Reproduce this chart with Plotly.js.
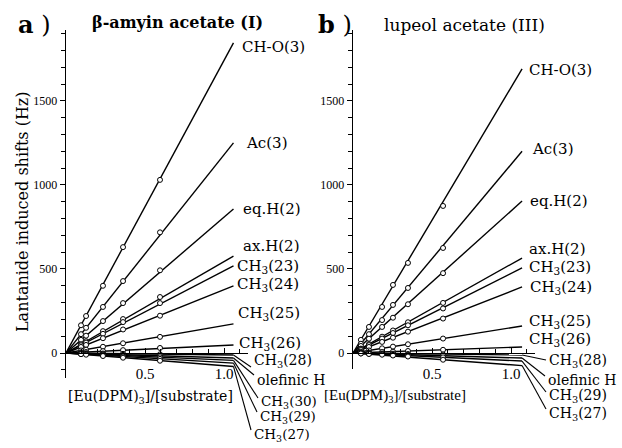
<!DOCTYPE html>
<html><head><meta charset="utf-8">
<script src="https://cdn.plot.ly/plotly-3.0.1.min.js"></script>
<style>html,body{margin:0;padding:0;background:#fff}#chart{width:622px;height:448px}</style>
</head><body><div id="chart"></div>
<script>
// ---------- data ----------
const seriesA = ['CH-O(3)','Ac(3)','eq.H(2)','ax.H(2)','CH<sub>3</sub>(23)','CH<sub>3</sub>(24)','CH<sub>3</sub>(25)','CH<sub>3</sub>(26)','CH<sub>3</sub>(28)','olefinic H','CH<sub>3</sub>(30)','CH<sub>3</sub>(29)','CH<sub>3</sub>(27)'];
const ratioA = [0.095, 0.127, 0.234, 0.361, 0.595];
const shiftsA = [
  [165, 220, 400, 630, 1030],
  [112, 150, 274, 428, 718],
  [78, 103, 190, 297, 492],
  [52, 70, 130, 202, 333],
  [46, 62, 114, 184, 297],
  [36, 48, 88, 140, 222],
  [15, 20, 37, 58, 96],
  [4, 6, 11, 17, 30],
  [-1, -2, -3, -5, -8],
  [-3, -4, -7, -11, -18],
  [-4, -5, -10, -15, -26],
  [-6, -7, -14, -21, -35],
  [-7, -10, -18, -28, -46]
];
const endRatioA = 1.06;
const endShiftA = [1845, 1250, 857, 577, 518, 399, 173, 48, -12, -30, -44, -60, -80];

const seriesB = ['CH-O(3)','Ac(3)','eq.H(2)','ax.H(2)','CH<sub>3</sub>(23)','CH<sub>3</sub>(24)','CH<sub>3</sub>(25)','CH<sub>3</sub>(26)','CH<sub>3</sub>(28)','olefinic H','CH<sub>3</sub>(29)','CH<sub>3</sub>(27)'];
const ratioB = [0.05, 0.101, 0.184, 0.253, 0.348, 0.57];
const shiftsB = [
  [78, 155, 274, 405, 536, 875],
  [55, 112, 196, 286, 387, 625],
  [42, 85, 155, 210, 290, 475],
  [26, 53, 97, 134, 183, 298],
  [24, 47, 86, 119, 165, 265],
  [18, 36, 66, 91, 127, 205],
  [8, 15, 28, 38, 52, 86],
  [2, 3, 6, 8, 12, 19],
  [-1, -2, -3, -4, -6, -9],
  [-1, -3, -5, -7, -10, -16],
  [-2, -4, -8, -11, -15, -26],
  [-3, -6, -10, -15, -21, -40]
];
const endRatioB = 1.07;
const endShiftB = [1690, 1200, 904, 565, 506, 393, 161, 36, -12, -30, -48, -75];

const yTicks = [0, 500, 1000, 1500];
const xTicks = [0.5, 1.0];

// ---------- layout geometry (pixels) ----------
const W = 622, H = 448, MT = 30, MB = 70, PH = H - MT - MB;
const PXU = 158;              // px per unit of ratio
const HZPX = 5.95;            // Hz per px
const X0A = 66, X0B = 353, Y0 = 353;
const XMAX = 1.15;
const yTop = (Y0 - MT) * HZPX;
const yBotA = -(H - MB - Y0) * HZPX;
const yBotB = -(369 - Y0) * HZPX;

const px2x = p => p / W;
const py2y = p => (H - MB - p) / PH;

// label positions [left px, center py, font size]
const labelPosA = [[240,47,15],[244,143,15],[241,209,15],[241,246,15],[235,266,15],[235,284,15],[236,313,15],[237,343,15],[252,361,14],[255,380,14],[259,402,13.5],[258,417,13.5],[252,435,13.5]];
const leaderEndA = {8:[251,367], 9:[254,375], 10:[258,398], 11:[257,412], 12:[251,430]};
const labelPosB = [[527,70,15],[530,149,15],[528,201,15],[527,249,15],[527,267,15],[528,287,15],[527,321,15],[527,339,15],[547,361,14],[546,380,14],[547,396,14],[547,414,14]];
const leaderEndB = {8:[546,360], 9:[545,376], 10:[546,392], 11:[546,409]};

const SERIF = 'DejaVu Serif, Liberation Serif, serif';
const TSERIF = 'Liberation Serif, DejaVu Serif, serif';

const traces = [];
const markerTraces = [];
function addPanel(series, ratio, shifts, endR, endS, xa, ya) {
  series.forEach((s, i) => {
    traces.push({x: [0, endR], y: [0, endS[i]], xaxis: xa, yaxis: ya, mode: 'lines',
      line: {color: '#000', width: 1.4}, hoverinfo: 'skip', showlegend: false});
    markerTraces.push({x: ratio, y: shifts[i], xaxis: xa, yaxis: ya, mode: 'markers', name: s,
      marker: {symbol: 'circle', size: 5, color: '#fff', line: {color: '#000', width: 1}}, showlegend: false});
  });
}
addPanel(seriesA, ratioA, shiftsA, endRatioA, endShiftA, 'x', 'y');
addPanel(seriesB, ratioB, shiftsB, endRatioB, endShiftB, 'x2', 'y2');

const annotations = [];
const shapes = [];
function addLabels(series, pos, leaders, endR, endS, x0) {
  series.forEach((s, i) => {
    annotations.push({xref: 'paper', yref: 'paper', x: px2x(pos[i][0]), y: py2y(pos[i][1]),
      xanchor: 'left', yanchor: 'middle', showarrow: false, text: s,
      font: {family: SERIF, size: pos[i][2], color: '#000'}});
    if (leaders[i]) {
      const sx = x0 + endR * PXU, sy = Y0 - endS[i] / HZPX;
      shapes.push({type: 'line', xref: 'paper', yref: 'paper', x0: px2x(sx), y0: py2y(sy),
        x1: px2x(leaders[i][0]), y1: py2y(leaders[i][1]), line: {color: '#000', width: 1.1}});
    }
  });
}
addLabels(seriesA, labelPosA, leaderEndA, endRatioA, endShiftA, X0A);
addLabels(seriesB, labelPosB, leaderEndB, endRatioB, endShiftB, X0B);

const txt = (t, x, y, size, extra) => Object.assign({xref: 'paper', yref: 'paper', x: px2x(x), y: py2y(y),
  xanchor: 'left', yanchor: 'middle', showarrow: false, text: t, font: {family: SERIF, size: size, color: '#000'}}, extra || {});
annotations.push(txt('<b>a</b> )', 16, 25, 24));
annotations.push(txt('<b>b</b> )', 316, 25, 24));
annotations.push(txt('<b>β-amyin acetate (I)</b>', 90, 23, 16));
annotations.push(txt('lupeol acetate (III)', 382, 25, 17));
annotations.push(txt('Lantanide induced shifts (Hz)', 22, 212, 16, {xanchor: 'center', textangle: -90}));
annotations.push(txt('[Eu(DPM)<sub>3</sub>]/[substrate]', 150, 397, 14, {xanchor: 'center'}));
annotations.push(txt('[Eu(DPM)<sub>3</sub>]/[substrate]', 395, 396, 14, {xanchor: 'center', font: {family: TSERIF, size: 15, color: '#000'}}));

const zeroPos = (H - MB - Y0) / PH;
function xAxis(x0) {
  return {domain: [x0 / W, (x0 + XMAX * PXU) / W], range: [0, XMAX], anchor: 'free', position: zeroPos,
    showline: true, linecolor: '#000', linewidth: 1.3, ticks: 'inside', ticklen: 5, tickcolor: '#000',
    tickvals: xTicks, tickformat: '.1f', ticklabelstandoff: 7,
    tickfont: {family: TSERIF, size: 15, color: '#000'},
    minor: {dtick: 0.1, tick0: 0, ticks: 'inside', ticklen: 4, tickcolor: '#000'},
    showgrid: false, zeroline: false, automargin: false, fixedrange: true};
}
function yAxis(anchor, bottom, domBottom) {
  return {domain: [domBottom, 1], range: [bottom, yTop], anchor: anchor,
    showline: true, linecolor: '#000', linewidth: 1.4, ticks: 'outside', ticklen: 5, tickcolor: '#000',
    tickvals: yTicks, tickfont: {family: TSERIF, size: 12, color: '#000'},
    minor: {dtick: 100, tick0: 0, ticks: 'outside', ticklen: 4, tickcolor: '#000'},
    showgrid: false, zeroline: false, automargin: false, fixedrange: true};
}

const layout = {
  width: W, height: H, margin: {l: 0, r: 0, t: MT, b: MB},
  paper_bgcolor: '#fff', plot_bgcolor: 'rgba(0,0,0,0)', showlegend: false,
  xaxis: xAxis(X0A), yaxis: yAxis('x', yBotA, 0),
  xaxis2: xAxis(X0B), yaxis2: yAxis('x2', yBotB, (H - MB - 369) / PH),
  annotations: annotations, shapes: shapes
};

Plotly.newPlot('chart', traces.concat(markerTraces), layout, {staticPlot: true, displayModeBar: false});
</script>
</body></html>
